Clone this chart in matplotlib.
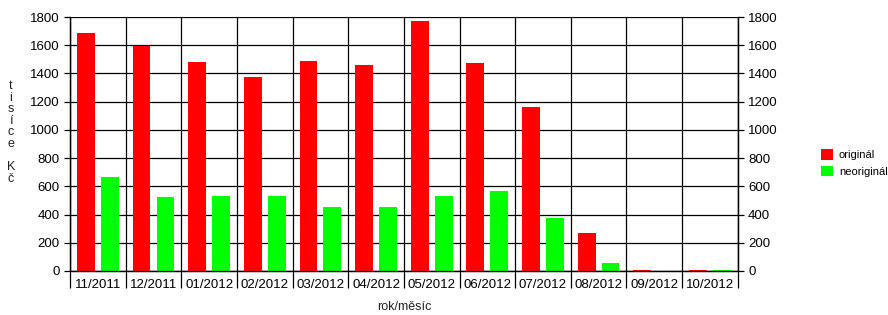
import numpy as np
import matplotlib
matplotlib.use("Agg")
import matplotlib.pyplot as plt
from matplotlib.ticker import FixedLocator

plt.rcParams['font.family'] = ['Liberation Sans', 'DejaVu Sans']

months = ['11/2011', '12/2011', '01/2012', '02/2012', '03/2012', '04/2012',
          '05/2012', '06/2012', '07/2012', '08/2012', '09/2012', '10/2012']
original = [1685, 1595, 1478, 1372, 1490, 1458, 1772, 1476, 1163, 268, 8, 8]
neoriginal = [668, 523, 532, 532, 453, 453, 532, 567, 374, 60, 0, 8]
yticks = [0, 200, 400, 600, 800, 1000, 1200, 1400, 1600, 1800]

fig = plt.figure(figsize=(8.88, 3.15), dpi=100)
ax = fig.add_axes([0.0788, 0.1397, 0.752, 0.8063])

x = np.arange(len(months))
ax.bar(x - 0.215, original, width=0.32, color='#ff0000', label='originál', zorder=3)
ax.bar(x + 0.215, neoriginal, width=0.32, color='#00ff00', label='neoriginál', zorder=3)

ax.set_xlim(-0.5, len(months) - 0.5)
ax.set_ylim(0, 1800)
ax.set_yticks(yticks)
ax.set_xticks(x)
ax.set_xticklabels(months, fontsize=9.5)
ax.tick_params(axis='x', which='major', length=0, pad=6)
ax.xaxis.set_minor_locator(FixedLocator(np.arange(len(months) + 1) - 0.5))
ax.tick_params(axis='x', which='minor', length=12, width=0.9, color='black')
ax.tick_params(axis='y', labelsize=9.5, length=4, width=0.9)

ax.grid(True, axis='y', color='black', linewidth=0.9, zorder=1)
ax.grid(True, axis='x', which='minor', color='black', linewidth=0.9, zorder=1)
for s in ax.spines.values():
    s.set_linewidth(0.9)
ax.spines['top'].set_visible(False)

ax2 = ax.twinx()
ax2.set_ylim(0, 1800)
ax2.set_yticks(yticks)
ax2.tick_params(axis='y', labelsize=9.5, length=4, width=0.9)
for s in ax2.spines.values():
    s.set_linewidth(0.9)
ax2.spines['top'].set_visible(False)

ax.set_xlabel('rok/měsíc', fontsize=9, labelpad=6, color='#222222')
fig.text(0.012, 0.58, 't\ni\ns\ní\nc\ne\n\nK\nč', fontsize=9, ha='center', va='center',
         linespacing=0.95, color='#222222')

ax.legend(loc='upper left', bbox_to_anchor=(1.11, 0.52), frameon=False, fontsize=8,
          handlelength=1.1, handleheight=1.1, handletextpad=0.5, labelspacing=0.5)

fig.savefig('out.png', dpi=100)
